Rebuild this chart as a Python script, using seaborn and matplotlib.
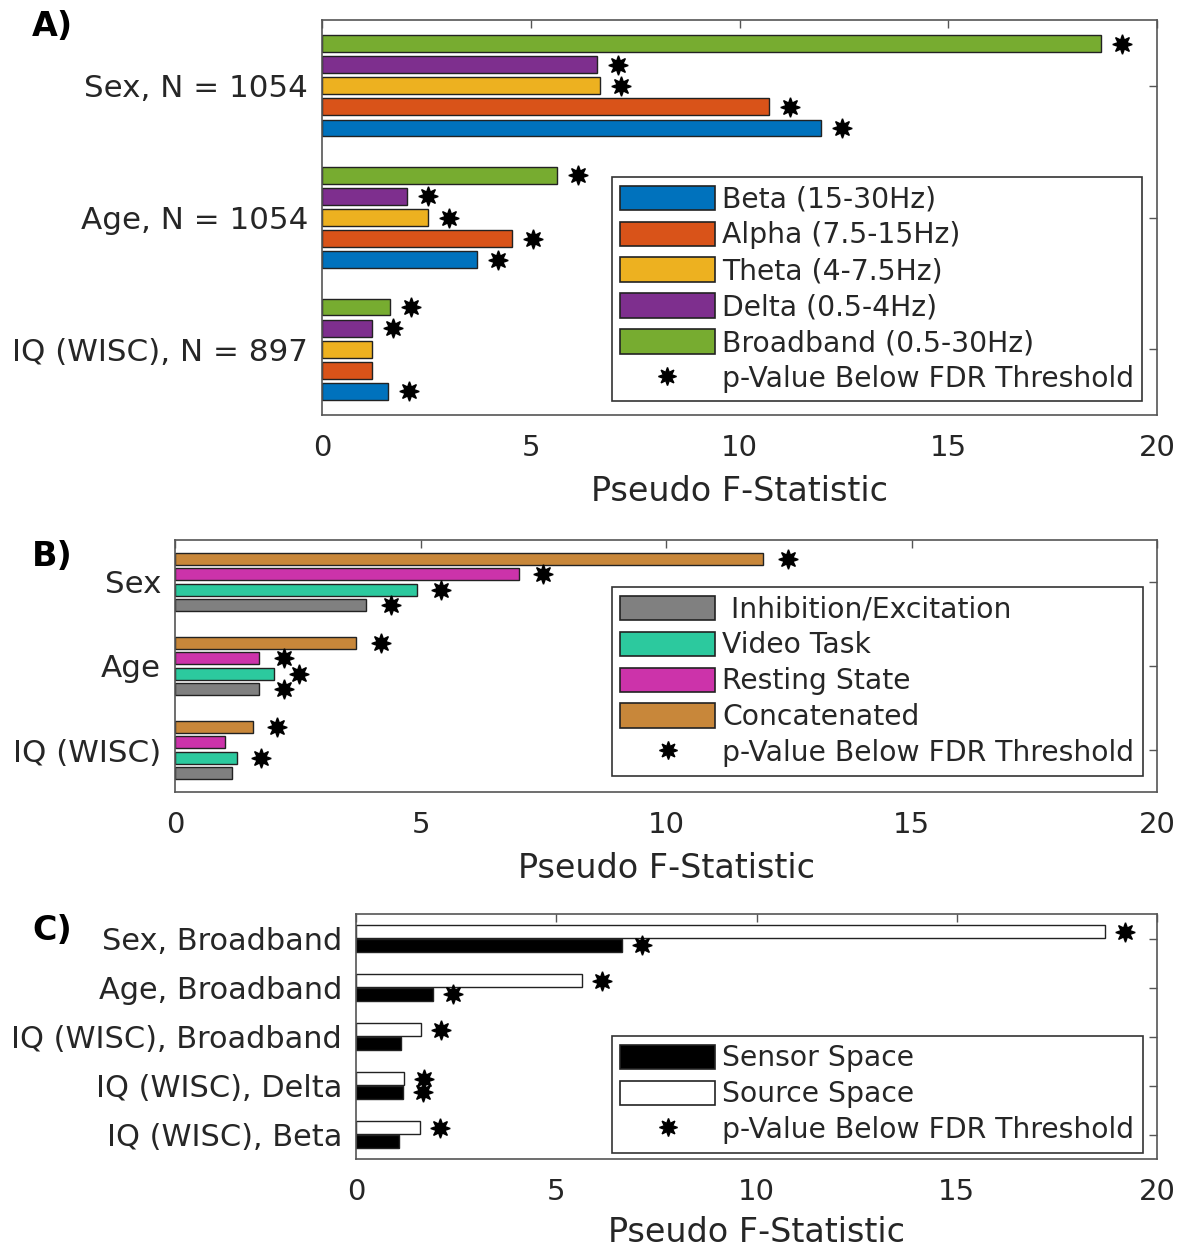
import matplotlib
matplotlib.use("Agg")
import matplotlib.pyplot as plt
import seaborn as sns
import pandas as pd
from matplotlib.patches import Patch
from matplotlib.lines import Line2D

# ---------------- Panel A data ----------------
a_groups = ["Sex, N = 1054", "Age, N = 1054", "IQ (WISC), N = 897"]
a_bands = ["Broadband (0.5-30Hz)", "Delta (0.5-4Hz)", "Theta (4-7.5Hz)",
           "Alpha (7.5-15Hz)", "Beta (15-30Hz)"]
a_broadband = [18.66, 5.63, 1.63]
a_delta = [6.59, 2.04, 1.20]
a_theta = [6.66, 2.54, 1.20]
a_alpha = [10.71, 4.55, 1.20]
a_beta = [11.95, 3.71, 1.58]
a_sig_broadband = [True, True, True]
a_sig_delta = [True, True, True]
a_sig_theta = [True, True, False]
a_sig_alpha = [True, True, False]
a_sig_beta = [True, True, True]
a_colors = ["#77AC30", "#7E2F8E", "#EDB120", "#D95319", "#0072BD"]
a_legend_order = ["Beta (15-30Hz)", "Alpha (7.5-15Hz)", "Theta (4-7.5Hz)",
                  "Delta (0.5-4Hz)", "Broadband (0.5-30Hz)"]

# ---------------- Panel B data ----------------
b_groups = ["Sex", "Age", "IQ (WISC)"]
b_conds = ["Concatenated", "Resting State", "Video Task", "Inhibition/Excitation"]
b_concat = [11.98, 3.69, 1.58]
b_rest = [7.00, 1.72, 1.02]
b_video = [4.92, 2.02, 1.26]
b_inhib = [3.90, 1.72, 1.16]
b_sig_concat = [True, True, True]
b_sig_rest = [True, True, False]
b_sig_video = [True, True, True]
b_sig_inhib = [True, True, False]
b_colors = ["#C8873A", "#CC33AA", "#2CC99E", "#808080"]
b_legend_order = ["Inhibition/Excitation", "Video Task", "Resting State", "Concatenated"]

# ---------------- Panel C data ----------------
c_groups = ["Sex, Broadband", "Age, Broadband", "IQ (WISC), Broadband",
            "IQ (WISC), Delta", "IQ (WISC), Beta"]
c_spaces = ["Source Space", "Sensor Space"]
c_source = [18.70, 5.65, 1.62, 1.20, 1.60]
c_sensor = [6.63, 1.93, 1.12, 1.18, 1.08]
c_sig_source = [True, True, True, True, True]
c_sig_sensor = [True, True, False, True, False]
c_colors = ["#FFFFFF", "#000000"]
c_legend_order = ["Sensor Space", "Source Space"]

sig_label = "p-Value Below FDR Threshold"
xlabel = "Pseudo F-Statistic"

# ---------------- style ----------------
sns.set_theme(style="white")
plt.rcParams["font.family"] = ["DejaVu Sans"]
TXT = "#262626"
AX = "#555555"
plt.rcParams.update({
    "text.color": TXT, "axes.labelcolor": TXT,
    "xtick.color": AX, "ytick.color": AX,
    "xtick.labelcolor": TXT, "ytick.labelcolor": TXT,
    "axes.edgecolor": AX, "axes.linewidth": 1.2,
})

fig = plt.figure(figsize=(11.91, 12.52), dpi=100)
W, H = 1191.0, 1252.0


def add_ax(l, r, t, b):
    return fig.add_axes([l / W, 1 - b / H, (r - l) / W, (b - t) / H])


def long_df(groups, names, series):
    rows = []
    for name, vals in zip(names, series):
        for g, v in zip(groups, vals):
            rows.append({"group": g, "series": name, "value": v})
    return pd.DataFrame(rows)


def draw_panel(ax, groups, names, series, sigs, colors, width, gap, ylim,
               legend_order, legend_anchor, legend_labels=None, xlabelpad=8,
               ylabelsize=22.5):
    df = long_df(groups, names, series)
    pal = dict(zip(names, colors))
    sns.barplot(data=df, x="value", y="group", hue="series", hue_order=names,
                order=groups, palette=pal, orient="h", errorbar=None,
                saturation=1, width=width, gap=gap, dodge=True,
                edgecolor="#222222", linewidth=1.0, legend=False, ax=ax)
    # significance stars from bar geometry
    for cont, sig in zip(ax.containers, sigs):
        for bar, s in zip(cont, sig):
            if s:
                ax.plot(bar.get_width() + 0.5, bar.get_y() + bar.get_height() / 2,
                        marker=(8, 1, 0), color="black", ms=14, ls="none", zorder=5)
    ax.set_xlim(0, 20)
    ax.set_xticks([0, 5, 10, 15, 20])
    ax.set_ylim(*ylim)
    ax.set_ylabel("")
    ax.set_xlabel(xlabel, fontsize=24, labelpad=xlabelpad)
    ax.tick_params(axis="both", direction="in", top=True, right=True,
                   length=6, width=1.0)
    ax.tick_params(axis="x", labelsize=21, pad=14)
    ax.tick_params(axis="y", labelsize=ylabelsize, pad=10)
    for sp in ax.spines.values():
        sp.set_visible(True)
        sp.set_color(AX)
    handles = [Patch(facecolor=pal[n], edgecolor="#222222", linewidth=1.2,
                     label=(legend_labels or {}).get(n, n)) for n in legend_order]
    handles.append(Line2D([], [], marker=(8, 1, 0), color="black", ms=13,
                          ls="none", label=sig_label))
    leg = ax.legend(handles=handles, loc="upper left", bbox_to_anchor=legend_anchor,
                    fontsize=20.3, frameon=True, fancybox=False, framealpha=1,
                    edgecolor="#333333", handlelength=3.35, handleheight=0.95,
                    handletextpad=0.25, labelspacing=0.28, borderpad=0.3,
                    borderaxespad=0)
    leg.get_frame().set_linewidth(1.2)
    return ax


# Panel A
axA = add_ax(322, 1157, 20, 415)
draw_panel(axA, a_groups, a_bands,
           [a_broadband, a_delta, a_theta, a_alpha, a_beta],
           [a_sig_broadband, a_sig_delta, a_sig_theta, a_sig_alpha, a_sig_beta],
           a_colors, 0.8, 0.2, (2.5, -0.5), a_legend_order, (0.347, 0.6025),
           xlabelpad=9, ylabelsize=22.3)

# Panel B
axB = add_ax(175, 1157, 540, 792)
draw_panel(axB, b_groups, b_conds,
           [b_concat, b_rest, b_video, b_inhib],
           [b_sig_concat, b_sig_rest, b_sig_video, b_sig_inhib],
           b_colors, 0.73, 0.2, (2.5, -0.5), b_legend_order, (0.445, 0.813),
           legend_labels={"Inhibition/Excitation": " Inhibition/Excitation"},
           xlabelpad=9, ylabelsize=22.3)

# Panel C
axC = add_ax(356, 1157, 914, 1159)
draw_panel(axC, c_groups, c_spaces,
           [c_source, c_sensor],
           [c_sig_source, c_sig_sensor],
           c_colors, 0.55, 0.06, (4.5, -0.5), c_legend_order, (0.3196, 0.502),
           xlabelpad=7, ylabelsize=21.9)

# Panel letters
for txt, x, y in [("A)", 32, 26), ("B)", 32, 556), ("C)", 32, 931)]:
    fig.text(x / W, 1 - y / H, txt, fontsize=24, fontweight="bold",
             color="black", ha="left", va="center")

fig.savefig("out.png", dpi=100)
